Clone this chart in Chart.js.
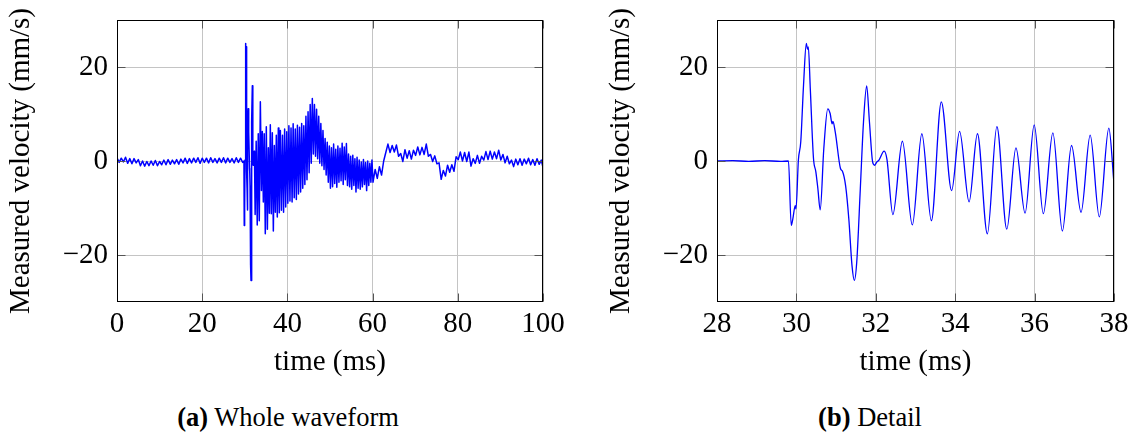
<!DOCTYPE html>
<html>
<head>
<meta charset="utf-8">
<script src="https://cdn.jsdelivr.net/npm/chart.js@4.4.1/dist/chart.umd.min.js"></script>
<style>
  body { margin: 0; background: #fff; width: 1135px; height: 435px; position: relative; overflow: hidden; }
  canvas { position: absolute; top: 0; }
  #whole { left: 0; }
  #detail { left: 575px; }
  .caption { position: absolute; top: 402px; width: 400px; text-align: center; font-family: 'Liberation Serif', serif; font-size: 26.5px; line-height: 30px; color: #000; }
</style>
</head>
<body>
<canvas id="whole" width="565" height="392"></canvas>
<canvas id="detail" width="560" height="392"></canvas>
<div class="caption" style="left: 88px;"><b>(a)</b> Whole waveform</div>
<div class="caption" style="left: 670px;"><b>(b)</b> Detail</div>
<script>
// quiet part before the arrival (ms, mm/s)
const quietTime = [0, 0.5, 1, 1.5, 2, 2.5, 3, 3.5, 4, 4.5, 5, 5.5, 6, 6.5, 7, 7.5, 8, 8.5, 9, 9.5,
  10, 10.5, 11, 11.5, 12, 12.5, 13, 13.5, 14, 14.5, 15, 15.5, 16, 16.5, 17, 17.5, 18, 18.5, 19, 19.5,
  20, 20.5, 21, 21.5, 22, 22.5, 23, 23.5, 24, 24.5, 25, 25.5, 26, 26.5, 27, 27.5, 28, 28.5, 29, 29.5];
const quietVel = [0.7, -0.3, 0.6, -0.2, 0.8, -0.5, 0.5, -0.6, 0.5, -0.4,
  0.3, -1.0, 0.0, -1.1, -0.1, -1.0, 0.0, -0.9, 0.1, -1.0,
  -0.1, -0.8, 0.2, -0.8, 0.3, -0.7, 0.2, -0.6, 0.3, -0.7,
  0.4, -0.4, 0.6, -0.5, 0.5, -0.4, 0.6, -0.3, 0.7, -0.5,
  0.6, -0.3, 0.6, -0.4, 0.7, -0.3, 0.5, -0.4, 0.6, -0.3,
  0.7, -0.4, 0.6, -0.3, 0.5, -0.4, 0.7, -0.3, 0.6, -0.3];

// detail window 28-38 ms
const detailTime = [28, 28.4, 28.8, 29.2, 29.6, 29.8, 29.87, 29.91, 29.97, 29.99,
  30.05, 30.11, 30.18, 30.25, 30.28, 30.3, 30.35, 30.43, 30.49, 30.54, 30.6,
  30.69, 30.79, 30.85, 30.9, 30.92, 30.98, 31.11, 31.16, 31.24, 31.32, 31.4, 31.46, 31.52,
  31.61, 31.69, 31.77, 31.84, 31.92, 31.97, 32.02, 32.08, 32.21, 32.28,
  32.43, 32.67, 32.92, 33.16, 33.4, 33.65, 33.91, 34.11, 34.35, 34.56, 34.81, 35.05, 35.3, 35.53, 35.76, 35.99,
  36.22, 36.46, 36.7, 36.93, 37.17, 37.4, 37.63, 37.87, 38];
const detailVel = [0, 0.1, -0.1, 0.1, -0.1, 0, -13.7, -12.3, -9.5, -10.2,
  0.2, 4.1, 16.2, 25.0, 23.8, 24.3, 15.4, 0.6, -2.3, -5.8, -10.4,
  2.6, 11.1, 10.1, 7.9, 8.4, 6.1, -1.6, -2.2, -5.3, -12.3, -22.2, -25.4, -21.5,
  -5.9, 8.3, 16.0, 8.3, -0.2, -0.9, -0.3, 0.2, 2.1, 0.4,
  -11.4, 4.2, -13.6, 5.8, -12.7, 12.6, -6.3, 6.3, -8.7, 5.8, -15.5, 7.3, -14.5, 2.8, -11.1, 7.7,
  -11.2, 6.0, -14.9, 3.3, -10.9, 5.5, -11.9, 7.0, -4.8];

// ringing after the detail window, 38-60 ms
const codaTime = [38.1, 38.35, 38.6, 38.85, 39.1, 39.35, 39.6, 39.85,
  40.1, 40.35, 40.6, 40.85, 41.1, 41.35, 41.6, 41.85, 42.1, 42.35, 42.6, 42.85,
  43.1, 43.35, 43.6, 43.85, 44.1, 44.35, 44.6, 44.85, 45.1, 45.35, 45.6, 45.85,
  46.1, 46.35, 46.6, 46.85, 47.1, 47.35, 47.6, 47.85, 48.1, 48.35, 48.6, 48.85,
  49.1, 49.35, 49.6, 49.85, 50.1, 50.35, 50.6, 50.85, 51.1, 51.35, 51.6, 51.85,
  52.1, 52.35, 52.6, 52.85, 53.1, 53.35, 53.6, 53.85, 54.1, 54.35, 54.6, 54.85,
  55.1, 55.35, 55.6, 55.85, 56.1, 56.35, 56.6, 56.85, 57.1, 57.35, 57.6, 57.85,
  58.1, 58.35, 58.6, 58.85, 59.1, 59.35, 59.6, 59.85];
const codaVel = [-11.0, 6.5, -10.5, 5.5, -10.9, 6.8, -9.8, 6.2,
  -9.0, 7.5, -8.5, 7.0, -8.7, 7.9, -7.8, 6.8, -8.2, 7.6, -7.0, 7.2,
  -6.6, 8.0, -5.8, 7.5, -5.0, 9.5, -4.0, 10.5, -2.5, 12.0, -0.5, 13.3,
  1.5, 12.0, 1.0, 11.0, 0.5, 9.5, -0.5, 8.0, -1.0, 6.5, -1.8, 4.8,
  -3.0, 4.0, -4.5, 3.2, -5.8, 2.8, -5.5, 3.6, -4.8, 2.5, -5.6, 3.2,
  -4.5, 2.7, -4.2, 3.8, -5.0, 3.0, -4.0, 3.7, -5.2, 1.5, -5.5, 1.0,
  -6.0, 1.2, -5.2, 0.5, -6.6, 0.8, -5.8, 0.2, -6.0, -0.2, -5.5, 0.3,
  -5.0, -0.3, -6.3, 0.0, -5.2, -0.5, -4.5, 0.2];

// slow tail, 60-100 ms
const tailTime = [60.1, 60.6, 61.1, 61.6, 62.1, 62.6, 63.1, 63.6, 64.1, 64.6, 65.1, 65.6,
  66.1, 66.6, 67.1, 67.6, 68.1, 68.6, 69.1, 69.6, 70.1, 70.6, 71.1, 71.6,
  72.1, 72.6, 73.1, 73.6, 74.1, 74.6, 75.1, 75.6, 76.1, 76.6, 77.1, 77.6,
  78.1, 78.6, 79.1, 79.6, 80.1, 80.6, 81.1, 81.6, 82.1, 82.6, 83.1, 83.6,
  84.1, 84.6, 85.1, 85.6, 86.1, 86.6, 87.1, 87.6, 88.1, 88.6, 89.1, 89.6,
  90.1, 90.6, 91.1, 91.6, 92.1, 92.6, 93.1, 93.6, 94.1, 94.6, 95.1, 95.6,
  96.1, 96.6, 97.1, 97.6, 98.1, 98.6, 99.1, 99.6, 100];
const tailVel = [-4.5, -1.8, -3.7, -1.2, -3.0, 0.0, 1.8, 3.6, 1.8, 3.3, 1.9, 3.4,
  1.0, 1.6, -0.1, 2.4, 0.6, 2.2, 0.4, 2.3, 1.2, 3.0, 1.3, 2.9,
  1.4, 3.6, 1.0, 1.4, -0.1, 1.1, -0.6, -0.4, -3.9, -2.0, -3.2, -0.9,
  -2.4, -0.8, -2.2, 0.9, 0.3, 1.9, 0.0, 1.8, -0.1, 1.9, -1.1, 0.5,
  -0.5, 1.2, -0.5, 1.0, 0.2, 2.0, 0.3, 2.1, 0.4, 1.9, 0.5, 2.3,
  0.2, 1.4, -0.4, 1.0, -0.6, 0.2, -1.2, 0.4, -0.8, 0.5, -0.9, 0.4,
  -0.6, 0.6, -0.8, 0.3, -0.9, 0.5, -0.7, 0.2, -1.4];

const yTicks = [-20, 0, 20];
const wholeTicks = [0, 20, 40, 60, 80, 100];
const detailTicks = [28, 30, 32, 34, 36, 38];

Chart.defaults.font.family = "'Liberation Serif', 'Times New Roman', serif";
Chart.defaults.color = '#000';

const toPoints = (ts, vs) => ts.map((t, i) => ({ x: t, y: vs[i] }));

let wholePoints = [
  ...toPoints(quietTime, quietVel),
  ...toPoints(detailTime, detailVel).filter(p => p.x > quietTime[quietTime.length - 1]),
  ...toPoints(codaTime, codaVel),
  ...toPoints(tailTime, tailVel)
];
let detailPoints = toPoints(detailTime, detailVel);

// pgfplots-like box with inward tick marks
const framePlugin = {
  id: 'frame',
  afterDraw(chart) {
    const { ctx, chartArea: a, scales } = chart;
    const L = Math.round(a.left) + 0.5, R = Math.round(a.right) - 0.5;
    const T = Math.round(a.top) + 0.5, B = Math.round(a.bottom) - 0.5;
    ctx.save();
    ctx.lineWidth = 1;
    ctx.strokeStyle = '#555';
    ctx.beginPath();
    scales.x.ticks.forEach(t => {
      const px = Math.round(scales.x.getPixelForValue(t.value)) + 0.5;
      ctx.moveTo(px, T); ctx.lineTo(px, T + 8);
      ctx.moveTo(px, B); ctx.lineTo(px, B - 8);
    });
    scales.y.ticks.forEach(t => {
      const py = Math.round(scales.y.getPixelForValue(t.value)) + 0.5;
      ctx.moveTo(L, py); ctx.lineTo(L + 8, py);
      ctx.moveTo(R, py); ctx.lineTo(R - 8, py);
    });
    ctx.stroke();
    ctx.strokeStyle = '#000';
    ctx.strokeRect(L, T, R - L, B - T);
    ctx.restore();
  }
};

function buildChart(id, points, xTicks, yWidth, rightPad, titlePad, smooth) {
  return new Chart(document.getElementById(id), {
    type: 'line',
    data: {
      datasets: [{
        data: points,
        borderColor: '#0000ff',
        borderWidth: smooth ? 1.3 : 1.5,
        borderJoinStyle: 'round',
        pointRadius: 0,
        tension: smooth ? 0.4 : 0,
        cubicInterpolationMode: smooth ? 'monotone' : 'default'
      }]
    },
    options: {
      responsive: false,
      animation: false,
      layout: { padding: { top: 20, right: rightPad, left: 0, bottom: 0 } },
      plugins: { legend: { display: false }, tooltip: { enabled: false } },
      scales: {
        x: {
          type: 'linear',
          min: xTicks[0],
          max: xTicks[xTicks.length - 1],
          afterBuildTicks: s => { s.ticks = xTicks.map(v => ({ value: v })); },
          afterFit: s => { s.height = 90; s.paddingLeft = 0; s.paddingRight = 0; },
          grid: { color: '#c4c4c4', lineWidth: 1, drawTicks: false },
          border: { display: false },
          ticks: { autoSkip: false, maxRotation: 0, padding: 5, font: { size: 29 } },
          title: { display: true, text: 'time (ms)', font: { size: 29 }, padding: { top: 0, bottom: 12 } }
        },
        y: {
          min: -30,
          max: 30,
          afterBuildTicks: s => { s.ticks = yTicks.map(v => ({ value: v })); },
          afterFit: s => { s.width = yWidth; s.paddingTop = 0; s.paddingBottom = 0; },
          grid: { color: '#c4c4c4', lineWidth: 1, drawTicks: false },
          border: { display: false },
          ticks: {
            padding: 9,
            font: { size: 29 },
            callback: v => String(v).replace('-', '\u2212')
          },
          title: { display: true, text: 'Measured velocity (mm/s)', font: { size: 29 }, padding: { top: titlePad, bottom: 0 } }
        }
      }
    },
    plugins: [framePlugin]
  });
}

buildChart('whole', wholePoints, wholeTicks, 117, 22, 4, false);
buildChart('detail', detailPoints, detailTicks, 142, 21, 29, true);
</script>
</body>
</html>
